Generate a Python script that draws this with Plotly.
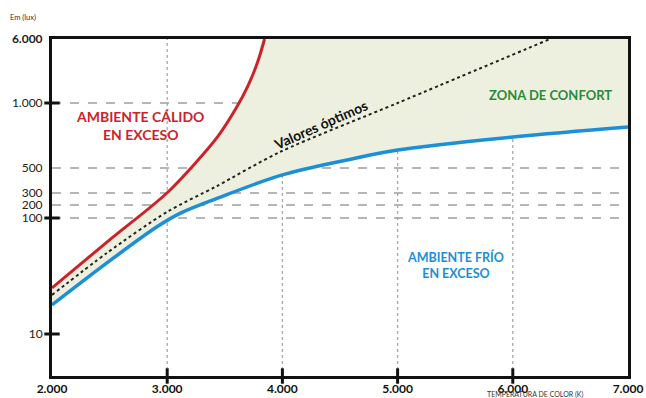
import numpy as np
import plotly.graph_objects as go

# ---- data (lux vs colour temperature) ----
red_T = [2000, 2477, 2998, 3215, 3440, 3600, 3700, 3785, 3845]
red_lux = [25, 62, 300, 506, 700, 950, 1600, 3150, 6000]

blue_T = [2000, 2477, 2911, 3111, 3432, 4000, 4561, 5000, 6000, 7000]
blue_lux = [17.8, 41, 84, 128, 250, 434, 545, 606, 696, 775]

opt_T = [2000, 2477, 2998, 3432, 3979, 5000, 6323]
opt_lux = [21.7, 50, 138, 346, 593, 1000, 6000]

y_tick_lux = [10, 100, 200, 300, 500, 1000, 6000]
y_tick_text = ["10", "100", "200", "300", "500", "1.000", "<b>6.000</b>"]
x_tick_vals = [2000, 3000, 4000, 5000, 6000, 7000]
x_tick_text = ["2.000", "3.000", "4.000", "5.000", "6.000", "7.000"]
y_grid_lux = [100, 200, 300, 500, 1000]
x_grid_vals = [3000, 4000, 5000, 6000]
y_mark_lux = [10, 100, 1000]
x_mark_vals = [3000, 4000, 5000, 6000]

# ---- the chart's own (non-uniform) vertical scale ----
SCALE_LUX = [10, 100, 200, 300, 500, 1000, 6000]
SCALE_POS = [42, 158, 171, 183, 208, 273, 337]


def ypos(lux):
    return np.interp(np.log10(np.asarray(lux, dtype=float)),
                     np.log10(SCALE_LUX), SCALE_POS)


TOP = 6000
XMAX = 7000

fig = go.Figure()

# comfort zone fill: lower edge = blue curve, upper edge = red curve then the top
fig.add_trace(go.Scatter(x=blue_T, y=ypos(blue_lux), mode="lines",
                         line=dict(width=0, color="rgba(0,0,0,0)", shape="spline", smoothing=1.0),
                         hoverinfo="skip", showlegend=False))
fig.add_trace(go.Scatter(x=list(red_T) + [XMAX], y=list(ypos(red_lux)) + [float(ypos(TOP))],
                         mode="lines", fill="tonexty", fillcolor="#eef0df",
                         line=dict(width=0, color="rgba(0,0,0,0)", shape="spline", smoothing=1.0),
                         hoverinfo="skip", showlegend=False))

fig.add_trace(go.Scatter(x=red_T, y=ypos(red_lux), mode="lines",
                         line=dict(color="#cc2229", width=3, shape="spline", smoothing=1.0),
                         showlegend=False))
fig.add_trace(go.Scatter(x=opt_T, y=ypos(opt_lux), mode="lines",
                         line=dict(color="#222222", width=2, dash="dot", shape="spline", smoothing=0.8),
                         showlegend=False))
fig.add_trace(go.Scatter(x=blue_T, y=ypos(blue_lux), mode="lines",
                         line=dict(color="#1b8fd8", width=3.5, shape="spline", smoothing=1.0),
                         showlegend=False))

# tick marks crossing the axes
fig.add_trace(go.Scatter(x=[2000] * len(y_mark_lux), y=ypos(y_mark_lux), mode="markers",
                         marker=dict(symbol="line-ew", size=11,
                                     line=dict(color="#111", width=3)),
                         cliponaxis=False, showlegend=False, hoverinfo="skip"))
fig.add_trace(go.Scatter(x=x_mark_vals, y=[0] * len(x_mark_vals), mode="markers",
                         marker=dict(symbol="line-ns", size=11,
                                     line=dict(color="#111", width=3)),
                         cliponaxis=False, showlegend=False, hoverinfo="skip"))

# grid lines
shapes = []
for v in y_grid_lux:
    yy = float(ypos(v))
    shapes.append(dict(type="line", xref="x", yref="y", x0=2000, x1=XMAX, y0=yy, y1=yy,
                       line=dict(color="#9e9e9e", width=1.3, dash="dash"), layer="below"))
for v in x_grid_vals:
    shapes.append(dict(type="line", xref="x", yref="paper", x0=v, x1=v, y0=0, y1=1,
                       line=dict(color="#a8a8a8", width=1.3, dash="dot"), layer="below"))

font_family = "Lato, 'Open Sans', sans-serif"

annotations = [
    dict(text="<b>AMBIENTE CÁLIDO<br>EN EXCESO</b>", x=0.153, y=0.742,
         font=dict(color="#c8242b", size=14, family=font_family), align="center"),
    dict(text="<b>ZONA DE CONFORT</b>", x=0.865, y=0.834,
         font=dict(color="#2b8a3a", size=13, family=font_family)),
    dict(text="<b>AMBIENTE FRÍO<br>EN EXCESO</b>", x=0.701, y=0.329,
         font=dict(color="#1a8fd8", size=12.5, family=font_family), align="center"),
    dict(text="<b>Valores óptimos</b>", x=0.467, y=0.745, textangle=-24,
         font=dict(color="#111", size=14, family=font_family)),
    dict(text="Em (lux)", x=-0.076, y=1.065, xanchor="left",
         font=dict(color="#333", size=7.5, family=font_family)),
    dict(text="TEMPERATURA DE COLOR (K)", x=0.84, y=-0.055,
         font=dict(color="#333", size=7, family=font_family)),
]
for a in annotations:
    a.setdefault("xanchor", "center")
    a.setdefault("yanchor", "middle")
    a.update(xref="paper", yref="paper", showarrow=False)

fig.update_layout(
    width=646, height=398,
    margin=dict(l=52, r=18, t=39, b=22),
    plot_bgcolor="white", paper_bgcolor="white",
    shapes=shapes, annotations=annotations,
    font=dict(family=font_family, color="#222"),
    xaxis=dict(range=[2000, XMAX], tickvals=x_tick_vals, ticktext=x_tick_text,
               showgrid=False, zeroline=False, showline=True, mirror=True,
               linecolor="#111", linewidth=3, ticks="", automargin=False,
               tickfont=dict(size=12, color="#111", family=font_family, weight="bold")),
    yaxis=dict(range=[0, float(ypos(TOP)) + 0.01], tickvals=ypos(y_tick_lux),
               ticktext=y_tick_text, showgrid=False, zeroline=False, automargin=False,
               showline=True, mirror=True, linecolor="#111", linewidth=3, ticks="",
               ticklabelstandoff=4,
               tickfont=dict(size=12, color="#222", family=font_family)),
)

fig.write_html("out.html", config={"displayModeBar": False},
               post_script="document.body.style.margin='0';document.body.style.overflow='hidden';")
